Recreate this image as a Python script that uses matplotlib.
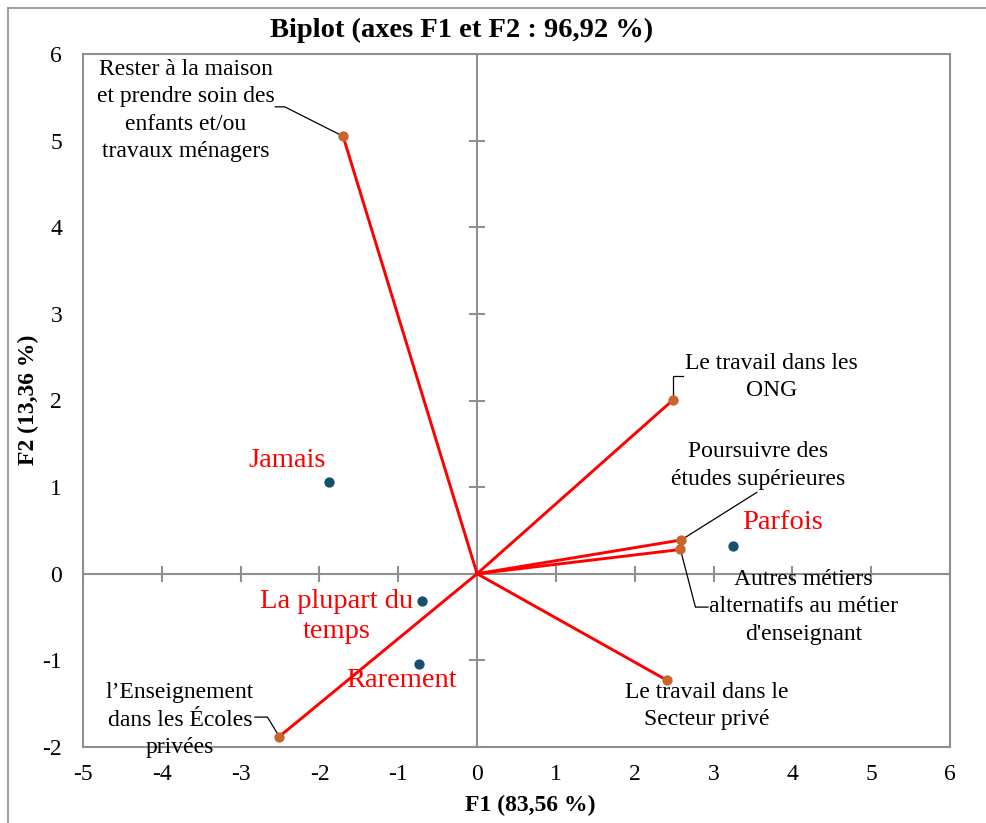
import matplotlib
matplotlib.use("Agg")
import matplotlib.pyplot as plt
from matplotlib.lines import Line2D

plt.rcParams['font.family'] = ['Liberation Serif', 'DejaVu Serif']
plt.rcParams['axes.unicode_minus'] = False

# Variables (arrows from the origin)
var_labels = [
    "Rester à la maison\net prendre soin des\nenfants et/ou\ntravaux ménagers",
    "Le travail dans les\nONG",
    "Poursuivre des\nétudes supérieures",
    "Autres métiers\nalternatifs au métier\nd'enseignant",
    "Le travail dans le\nSecteur privé",
    "l’Enseignement\ndans les Écoles\nprivées",
]
var_f1 = [-1.70, 2.49, 2.59, 2.58, 2.41, -2.51]
var_f2 = [5.05, 2.01, 0.39, 0.28, -1.23, -1.88]

# Observations (frequency categories)
obs_labels = ["Jamais", "Parfois", "La plupart du\ntemps", "Rarement"]
obs_f1 = [-1.88, 3.25, -0.70, -0.74]
obs_f2 = [1.06, 0.32, -0.31, -1.04]

x_ticks = [-5, -4, -3, -2, -1, 0, 1, 2, 3, 4, 5, 6]
y_ticks = [-2, -1, 0, 1, 2, 3, 4, 5, 6]

# Label placement and leader lines (label side -> elbow -> point)
var_text_pos = [(-3.70, 5.35), (3.74, 2.27), (3.57, 1.25), (4.14, -0.38), (2.92, -1.53), (-3.77, -1.69)]
var_leaders = [
    [(-2.56, 5.39), (-2.44, 5.39)],
    [(2.61, 2.28), (2.49, 2.28)],
    [(3.55, 0.94)],
    [(2.93, -0.385), (2.77, -0.385)],
    None,
    [(-2.82, -1.655), (-2.66, -1.655)],
]
obs_text_pos = [(-2.41, 1.31), (3.88, 0.59), (-1.78, -0.49), (-0.96, -1.23)]

gray = "#8f8f8f"
fig = plt.figure(figsize=(9.86, 8.23), dpi=100)
ax = fig.add_axes([83 / 986, 1 - 747 / 823, (950 - 83) / 986, (747 - 54) / 823])
ax.set_xlim(x_ticks[0], x_ticks[-1])
ax.set_ylim(y_ticks[0], y_ticks[-1])
ax.set_xticks(x_ticks)
ax.set_yticks(y_ticks)
ax.tick_params(length=0, labelsize=17)
ax.tick_params(axis='x', pad=12)
ax.tick_params(axis='y', pad=15)
for s in ax.spines.values():
    s.set_color(gray)
    s.set_linewidth(1.5)

# Axes through the origin with crossing tick marks
ax.axhline(0, color=gray, lw=1.5, zorder=1)
ax.axvline(0, color=gray, lw=1.5, zorder=1)
ax.plot(x_ticks, [0] * len(x_ticks), ls='none', marker='|', ms=12, mew=1.5, color=gray, zorder=1)
ax.plot([0] * len(y_ticks), y_ticks, ls='none', marker='_', ms=12, mew=1.5, color=gray, zorder=1)

# Variable arrows
for x, y in zip(var_f1, var_f2):
    ax.plot([0, x], [0, y], color="#ff0000", lw=2.1, zorder=3)
ax.scatter(var_f1, var_f2, s=55, color="#c8642d", zorder=4, linewidths=0)

for (x, y), lab, (tx, ty), lead in zip(zip(var_f1, var_f2), var_labels, var_text_pos, var_leaders):
    ax.text(tx, ty, lab, ha='center', va='center', fontsize=17, linespacing=1.4, zorder=5)
    if lead:
        xs = [p[0] for p in lead] + [x]
        ys = [p[1] for p in lead] + [y]
        ax.plot(xs, ys, color='black', lw=0.9, zorder=3)

# Observations
ax.scatter(obs_f1, obs_f2, s=55, color="#17506e", zorder=4, linewidths=0)
for lab, (tx, ty) in zip(obs_labels, obs_text_pos):
    ax.text(tx, ty, lab, ha='center', va='center', fontsize=20.5, color="#ff0000",
            linespacing=1.25, zorder=5)

fig.text(462 / 986, 1 - 30 / 823, "Biplot (axes F1 et F2 : 96,92 %)", ha='center', va='center',
         fontsize=20.5, fontweight='bold')
fig.text(530 / 986, 1 - 805 / 823, "F1 (83,56 %)", ha='center', va='center', fontsize=17, fontweight='bold')
fig.text(28 / 986, 1 - 400 / 823, "F2 (13,36 %)", ha='center', va='center', rotation=90,
         fontsize=17, fontweight='bold')

# Outer frame
fig.add_artist(Line2D([8 / 986, 8 / 986], [0, 1 - 8 / 823], transform=fig.transFigure, color=gray, lw=1.2))
fig.add_artist(Line2D([8 / 986, 1], [1 - 8 / 823, 1 - 8 / 823], transform=fig.transFigure, color=gray, lw=1.2))

fig.savefig("out.png", dpi=100)
